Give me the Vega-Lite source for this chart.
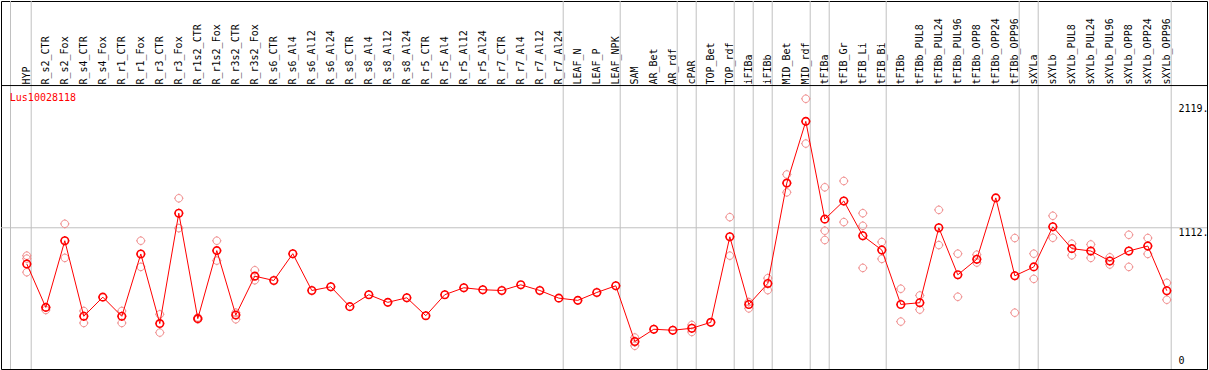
{
  "$schema": "https://vega.github.io/schema/vega-lite/v6.json",
  "width": 1209,
  "height": 370,
  "padding": 0,
  "autosize": {"type": "fit", "contains": "padding"},
  "background": "white",
  "config": {
    "view": {"stroke": "#000000", "strokeWidth": 1},
    "text": {"font": "DejaVu Sans Mono"}
  },
  "datasets": {
    "means": [
      {"sample": "HYP", "value": 819},
      {"sample": "R_s2_CTR", "value": 467},
      {"sample": "R_s2_Fox", "value": 1007},
      {"sample": "R_s4_CTR", "value": 395},
      {"sample": "R_s4_Fox", "value": 550},
      {"sample": "R_r1_CTR", "value": 395},
      {"sample": "R_r1_Fox", "value": 900},
      {"sample": "R_r3_CTR", "value": 336},
      {"sample": "R_r3_Fox", "value": 1230},
      {"sample": "R_r1s2_CTR", "value": 376},
      {"sample": "R_r1s2_Fox", "value": 927},
      {"sample": "R_r3s2_CTR", "value": 405},
      {"sample": "R_r3s2_Fox", "value": 720},
      {"sample": "R_s6_CTR", "value": 685},
      {"sample": "R_s6_Al4", "value": 902},
      {"sample": "R_s6_Al12", "value": 604},
      {"sample": "R_s6_Al24", "value": 634},
      {"sample": "R_s8_CTR", "value": 473},
      {"sample": "R_s8_Al4", "value": 570},
      {"sample": "R_s8_Al12", "value": 508},
      {"sample": "R_s8_Al24", "value": 545},
      {"sample": "R_r5_CTR", "value": 400},
      {"sample": "R_r5_Al4", "value": 570},
      {"sample": "R_r5_Al12", "value": 626},
      {"sample": "R_r5_Al24", "value": 610},
      {"sample": "R_r7_CTR", "value": 604},
      {"sample": "R_r7_Al4", "value": 650},
      {"sample": "R_r7_Al12", "value": 604},
      {"sample": "R_r7_Al24", "value": 542},
      {"sample": "LEAF_N", "value": 524},
      {"sample": "LEAF_P", "value": 588},
      {"sample": "LEAF_NPK", "value": 642},
      {"sample": "SAM", "value": 191},
      {"sample": "AR_Bet", "value": 290},
      {"sample": "AR_rdf", "value": 282},
      {"sample": "cPAR", "value": 298},
      {"sample": "TOP_Bet", "value": 346},
      {"sample": "TOP_rdf", "value": 1039},
      {"sample": "iFIBa", "value": 491},
      {"sample": "iFIBb", "value": 661},
      {"sample": "MID_Bet", "value": 1474},
      {"sample": "MID_rdf", "value": 1974},
      {"sample": "tFIBa", "value": 1182},
      {"sample": "tFIB_Gr", "value": 1329},
      {"sample": "tFIB_Li", "value": 1047},
      {"sample": "tFIB_Bi", "value": 932},
      {"sample": "tFIBb", "value": 491},
      {"sample": "tFIBb_PUL8", "value": 505},
      {"sample": "tFIBb_PUL24", "value": 1112},
      {"sample": "tFIBb_PUL96", "value": 731},
      {"sample": "tFIBb_OPP8", "value": 857},
      {"sample": "tFIBb_OPP24", "value": 1354},
      {"sample": "tFIBb_OPP96", "value": 723},
      {"sample": "sXYLa", "value": 795},
      {"sample": "sXYLb", "value": 1120},
      {"sample": "sXYLb_PUL8", "value": 943},
      {"sample": "sXYLb_PUL24", "value": 924},
      {"sample": "sXYLb_PUL96", "value": 843},
      {"sample": "sXYLb_OPP8", "value": 924},
      {"sample": "sXYLb_OPP24", "value": 964},
      {"sample": "sXYLb_OPP96", "value": 602}
    ],
    "reps": [
      {"sample": "HYP", "value": 886}, {"sample": "HYP", "value": 862}, {"sample": "HYP", "value": 752},
      {"sample": "R_s2_CTR", "value": 467}, {"sample": "R_s2_CTR", "value": 446},
      {"sample": "R_s2_Fox", "value": 1144}, {"sample": "R_s2_Fox", "value": 868},
      {"sample": "R_s4_CTR", "value": 438}, {"sample": "R_s4_CTR", "value": 341},
      {"sample": "R_r1_CTR", "value": 438}, {"sample": "R_r1_CTR", "value": 341},
      {"sample": "R_r1_Fox", "value": 1007}, {"sample": "R_r1_Fox", "value": 795},
      {"sample": "R_r3_CTR", "value": 411}, {"sample": "R_r3_CTR", "value": 263},
      {"sample": "R_r3_Fox", "value": 1351}, {"sample": "R_r3_Fox", "value": 1109},
      {"sample": "R_r1s2_CTR", "value": 385}, {"sample": "R_r1s2_CTR", "value": 370},
      {"sample": "R_r1s2_Fox", "value": 1007}, {"sample": "R_r1s2_Fox", "value": 846},
      {"sample": "R_r3s2_CTR", "value": 424}, {"sample": "R_r3s2_CTR", "value": 371},
      {"sample": "R_r3s2_Fox", "value": 768}, {"sample": "R_r3s2_Fox", "value": 687},
      {"sample": "SAM", "value": 223}, {"sample": "SAM", "value": 156}, {"sample": "SAM", "value": 185},
      {"sample": "cPAR", "value": 325}, {"sample": "cPAR", "value": 268},
      {"sample": "TOP_rdf", "value": 1198}, {"sample": "TOP_rdf", "value": 886},
      {"sample": "iFIBa", "value": 510}, {"sample": "iFIBa", "value": 459},
      {"sample": "iFIBb", "value": 704}, {"sample": "iFIBb", "value": 607},
      {"sample": "MID_Bet", "value": 1544}, {"sample": "MID_Bet", "value": 1399},
      {"sample": "MID_rdf", "value": 2157}, {"sample": "MID_rdf", "value": 1794},
      {"sample": "tFIBa", "value": 1440}, {"sample": "tFIBa", "value": 1088}, {"sample": "tFIBa", "value": 1013},
      {"sample": "tFIB_Gr", "value": 1491}, {"sample": "tFIB_Gr", "value": 1158},
      {"sample": "tFIB_Li", "value": 1230}, {"sample": "tFIB_Li", "value": 1128}, {"sample": "tFIB_Li", "value": 787},
      {"sample": "tFIB_Bi", "value": 997}, {"sample": "tFIB_Bi", "value": 860},
      {"sample": "tFIBb", "value": 618}, {"sample": "tFIBb", "value": 352},
      {"sample": "tFIBb_PUL8", "value": 564}, {"sample": "tFIBb_PUL8", "value": 449},
      {"sample": "tFIBb_PUL24", "value": 1257}, {"sample": "tFIBb_PUL24", "value": 972},
      {"sample": "tFIBb_PUL96", "value": 902}, {"sample": "tFIBb_PUL96", "value": 553},
      {"sample": "tFIBb_OPP8", "value": 894}, {"sample": "tFIBb_OPP8", "value": 830},
      {"sample": "tFIBb_OPP96", "value": 1029}, {"sample": "tFIBb_OPP96", "value": 424},
      {"sample": "sXYLa", "value": 902}, {"sample": "sXYLa", "value": 698},
      {"sample": "sXYLb", "value": 1209}, {"sample": "sXYLb", "value": 1031},
      {"sample": "sXYLb_PUL8", "value": 983}, {"sample": "sXYLb_PUL8", "value": 889},
      {"sample": "sXYLb_PUL24", "value": 977}, {"sample": "sXYLb_PUL24", "value": 868},
      {"sample": "sXYLb_PUL96", "value": 873}, {"sample": "sXYLb_PUL96", "value": 814},
      {"sample": "sXYLb_OPP8", "value": 1055}, {"sample": "sXYLb_OPP8", "value": 795},
      {"sample": "sXYLb_OPP24", "value": 1029}, {"sample": "sXYLb_OPP24", "value": 900},
      {"sample": "sXYLb_OPP96", "value": 666}, {"sample": "sXYLb_OPP96", "value": 529}
    ],
    "seps": [
      {"sample": "HYP"}, {"sample": "R_r7_Al24"}, {"sample": "LEAF_NPK"}, {"sample": "AR_rdf"},
      {"sample": "cPAR"}, {"sample": "TOP_rdf"}, {"sample": "iFIBa"}, {"sample": "iFIBb"},
      {"sample": "MID_rdf"}, {"sample": "tFIBa"}, {"sample": "tFIB_Bi"}, {"sample": "tFIBb_OPP96"},
      {"sample": "sXYLa"}, {"sample": "sXYLb_OPP96"}
    ],
    "gene": [{"name": "Lus10028118"}]
  },
  "layer": [
    {
      "data": {"name": "seps"},
      "mark": {"type": "rule", "color": "#c0c0c0", "strokeWidth": 1, "xOffset": 4.4},
      "encoding": {
        "x": {"field": "sample", "type": "nominal",
          "scale": {"type": "point", "padding": 0, "range": [25.8, 1165.8], "domain": ["HYP","R_s2_CTR","R_s2_Fox","R_s4_CTR","R_s4_Fox","R_r1_CTR","R_r1_Fox","R_r3_CTR","R_r3_Fox","R_r1s2_CTR","R_r1s2_Fox","R_r3s2_CTR","R_r3s2_Fox","R_s6_CTR","R_s6_Al4","R_s6_Al12","R_s6_Al24","R_s8_CTR","R_s8_Al4","R_s8_Al12","R_s8_Al24","R_r5_CTR","R_r5_Al4","R_r5_Al12","R_r5_Al24","R_r7_CTR","R_r7_Al4","R_r7_Al12","R_r7_Al24","LEAF_N","LEAF_P","LEAF_NPK","SAM","AR_Bet","AR_rdf","cPAR","TOP_Bet","TOP_rdf","iFIBa","iFIBb","MID_Bet","MID_rdf","tFIBa","tFIB_Gr","tFIB_Li","tFIB_Bi","tFIBb","tFIBb_PUL8","tFIBb_PUL24","tFIBb_PUL96","tFIBb_OPP8","tFIBb_OPP24","tFIBb_OPP96","sXYLa","sXYLb","sXYLb_PUL8","sXYLb_PUL24","sXYLb_PUL96","sXYLb_OPP8","sXYLb_OPP24","sXYLb_OPP96"]},
          "axis": {"orient": "top", "offset": -85, "title": null, "labelAngle": -90, "labelAlign": "left", "labelBaseline": "middle",
            "labelPadding": 2, "labelFont": "DejaVu Sans Mono", "labelFontSize": 10, "labelColor": "#000000",
            "labelOverlap": false, "labelLimit": 300, "labelBound": false, "labelFlush": false,
            "ticks": false, "grid": false, "domain": false}
        }
      }
    },
    {
      "data": {"name": "gene"},
      "mark": {"type": "rule", "color": "#c0c0c0", "strokeWidth": 1, "xOffset": -16.3},
      "encoding": {
        "x": {"datum": "HYP", "type": "nominal",
          "scale": {"type": "point", "padding": 0, "range": [25.8, 1165.8], "domain": ["HYP","R_s2_CTR","R_s2_Fox","R_s4_CTR","R_s4_Fox","R_r1_CTR","R_r1_Fox","R_r3_CTR","R_r3_Fox","R_r1s2_CTR","R_r1s2_Fox","R_r3s2_CTR","R_r3s2_Fox","R_s6_CTR","R_s6_Al4","R_s6_Al12","R_s6_Al24","R_s8_CTR","R_s8_Al4","R_s8_Al12","R_s8_Al24","R_r5_CTR","R_r5_Al4","R_r5_Al12","R_r5_Al24","R_r7_CTR","R_r7_Al4","R_r7_Al12","R_r7_Al24","LEAF_N","LEAF_P","LEAF_NPK","SAM","AR_Bet","AR_rdf","cPAR","TOP_Bet","TOP_rdf","iFIBa","iFIBb","MID_Bet","MID_rdf","tFIBa","tFIB_Gr","tFIB_Li","tFIB_Bi","tFIBb","tFIBb_PUL8","tFIBb_PUL24","tFIBb_PUL96","tFIBb_OPP8","tFIBb_OPP24","tFIBb_OPP96","sXYLa","sXYLb","sXYLb_PUL8","sXYLb_PUL24","sXYLb_PUL96","sXYLb_OPP8","sXYLb_OPP24","sXYLb_OPP96"]}}
      }
    },
    {
      "data": {"name": "gene"},
      "mark": {"type": "rule", "color": "#c0c0c0", "strokeWidth": 1},
      "encoding": {
        "y": {"datum": 1112, "type": "quantitative",
          "scale": {"domain": [-32, 2949], "nice": false, "zero": false},
          "axis": {"orient": "right", "offset": -30, "title": null, "values": [0, 1112, 2119],
            "labelExpr": "datum.value == 0 ? '0' : datum.value + '.'",
            "labelAlign": "left", "labelPadding": 1,
            "labelBaseline": {"condition": {"test": "datum.value == 0", "value": "bottom"}, "value": "top"},
            "labelFont": "DejaVu Sans Mono", "labelFontSize": 10, "labelColor": "#000000",
            "labelBound": false, "labelFlush": false, "labelOverlap": false,
            "ticks": false, "grid": false, "domain": false}
        }
      }
    },
    {
      "data": {"name": "gene"},
      "mark": {"type": "rule", "color": "#000000", "strokeWidth": 1},
      "encoding": {
        "y": {"datum": 2264, "type": "quantitative", "scale": {"domain": [-32, 2949], "nice": false, "zero": false}}
      }
    },
    {
      "data": {"name": "reps"},
      "mark": {"type": "point", "shape": "M-1,0C-1,-0.5523,-0.5523,-1,0,-1C0.5523,-1,1,-0.5523,1,0C1,0.5523,0.5523,1,0,1C-0.5523,1,-1,0.5523,-1,0ZM0,-1L0,-1.25M0,1L0,1.25M-1,0L-1.25,0M1,0L1.25,0",
        "filled": false, "stroke": "#f08c8c", "strokeWidth": 1, "size": 56, "opacity": 1},
      "encoding": {
        "x": {"field": "sample", "type": "nominal",
          "scale": {"type": "point", "padding": 0, "range": [25.8, 1165.8], "domain": ["HYP","R_s2_CTR","R_s2_Fox","R_s4_CTR","R_s4_Fox","R_r1_CTR","R_r1_Fox","R_r3_CTR","R_r3_Fox","R_r1s2_CTR","R_r1s2_Fox","R_r3s2_CTR","R_r3s2_Fox","R_s6_CTR","R_s6_Al4","R_s6_Al12","R_s6_Al24","R_s8_CTR","R_s8_Al4","R_s8_Al12","R_s8_Al24","R_r5_CTR","R_r5_Al4","R_r5_Al12","R_r5_Al24","R_r7_CTR","R_r7_Al4","R_r7_Al12","R_r7_Al24","LEAF_N","LEAF_P","LEAF_NPK","SAM","AR_Bet","AR_rdf","cPAR","TOP_Bet","TOP_rdf","iFIBa","iFIBb","MID_Bet","MID_rdf","tFIBa","tFIB_Gr","tFIB_Li","tFIB_Bi","tFIBb","tFIBb_PUL8","tFIBb_PUL24","tFIBb_PUL96","tFIBb_OPP8","tFIBb_OPP24","tFIBb_OPP96","sXYLa","sXYLb","sXYLb_PUL8","sXYLb_PUL24","sXYLb_PUL96","sXYLb_OPP8","sXYLb_OPP24","sXYLb_OPP96"]}},
        "y": {"field": "value", "type": "quantitative", "scale": {"domain": [-32, 2949], "nice": false, "zero": false}}
      }
    },
    {
      "data": {"name": "means"},
      "mark": {"type": "line", "color": "#ff0000", "strokeWidth": 1},
      "encoding": {
        "x": {"field": "sample", "type": "nominal",
          "scale": {"type": "point", "padding": 0, "range": [25.8, 1165.8], "domain": ["HYP","R_s2_CTR","R_s2_Fox","R_s4_CTR","R_s4_Fox","R_r1_CTR","R_r1_Fox","R_r3_CTR","R_r3_Fox","R_r1s2_CTR","R_r1s2_Fox","R_r3s2_CTR","R_r3s2_Fox","R_s6_CTR","R_s6_Al4","R_s6_Al12","R_s6_Al24","R_s8_CTR","R_s8_Al4","R_s8_Al12","R_s8_Al24","R_r5_CTR","R_r5_Al4","R_r5_Al12","R_r5_Al24","R_r7_CTR","R_r7_Al4","R_r7_Al12","R_r7_Al24","LEAF_N","LEAF_P","LEAF_NPK","SAM","AR_Bet","AR_rdf","cPAR","TOP_Bet","TOP_rdf","iFIBa","iFIBb","MID_Bet","MID_rdf","tFIBa","tFIB_Gr","tFIB_Li","tFIB_Bi","tFIBb","tFIBb_PUL8","tFIBb_PUL24","tFIBb_PUL96","tFIBb_OPP8","tFIBb_OPP24","tFIBb_OPP96","sXYLa","sXYLb","sXYLb_PUL8","sXYLb_PUL24","sXYLb_PUL96","sXYLb_OPP8","sXYLb_OPP24","sXYLb_OPP96"]}},
        "y": {"field": "value", "type": "quantitative", "scale": {"domain": [-32, 2949], "nice": false, "zero": false}}
      }
    },
    {
      "data": {"name": "means"},
      "mark": {"type": "point", "shape": "M-1,0C-1,-0.5523,-0.5523,-1,0,-1C0.5523,-1,1,-0.5523,1,0C1,0.5523,0.5523,1,0,1C-0.5523,1,-1,0.5523,-1,0ZM0,-1L0,-1.25M0,1L0,1.25M-1,0L-1.25,0M1,0L1.25,0",
        "filled": false, "stroke": "#ff0000", "strokeWidth": 1.6, "size": 56, "opacity": 1},
      "encoding": {
        "x": {"field": "sample", "type": "nominal",
          "scale": {"type": "point", "padding": 0, "range": [25.8, 1165.8], "domain": ["HYP","R_s2_CTR","R_s2_Fox","R_s4_CTR","R_s4_Fox","R_r1_CTR","R_r1_Fox","R_r3_CTR","R_r3_Fox","R_r1s2_CTR","R_r1s2_Fox","R_r3s2_CTR","R_r3s2_Fox","R_s6_CTR","R_s6_Al4","R_s6_Al12","R_s6_Al24","R_s8_CTR","R_s8_Al4","R_s8_Al12","R_s8_Al24","R_r5_CTR","R_r5_Al4","R_r5_Al12","R_r5_Al24","R_r7_CTR","R_r7_Al4","R_r7_Al12","R_r7_Al24","LEAF_N","LEAF_P","LEAF_NPK","SAM","AR_Bet","AR_rdf","cPAR","TOP_Bet","TOP_rdf","iFIBa","iFIBb","MID_Bet","MID_rdf","tFIBa","tFIB_Gr","tFIB_Li","tFIB_Bi","tFIBb","tFIBb_PUL8","tFIBb_PUL24","tFIBb_PUL96","tFIBb_OPP8","tFIBb_OPP24","tFIBb_OPP96","sXYLa","sXYLb","sXYLb_PUL8","sXYLb_PUL24","sXYLb_PUL96","sXYLb_OPP8","sXYLb_OPP24","sXYLb_OPP96"]}},
        "y": {"field": "value", "type": "quantitative", "scale": {"domain": [-32, 2949], "nice": false, "zero": false}}
      }
    },
    {
      "data": {"name": "gene"},
      "mark": {"type": "text", "color": "#ff0000", "font": "DejaVu Sans Mono", "fontSize": 10, "align": "left", "baseline": "middle", "dx": -17},
      "encoding": {
        "x": {"datum": "HYP", "type": "nominal",
          "scale": {"type": "point", "padding": 0, "range": [25.8, 1165.8], "domain": ["HYP","R_s2_CTR","R_s2_Fox","R_s4_CTR","R_s4_Fox","R_r1_CTR","R_r1_Fox","R_r3_CTR","R_r3_Fox","R_r1s2_CTR","R_r1s2_Fox","R_r3s2_CTR","R_r3s2_Fox","R_s6_CTR","R_s6_Al4","R_s6_Al12","R_s6_Al24","R_s8_CTR","R_s8_Al4","R_s8_Al12","R_s8_Al24","R_r5_CTR","R_r5_Al4","R_r5_Al12","R_r5_Al24","R_r7_CTR","R_r7_Al4","R_r7_Al12","R_r7_Al24","LEAF_N","LEAF_P","LEAF_NPK","SAM","AR_Bet","AR_rdf","cPAR","TOP_Bet","TOP_rdf","iFIBa","iFIBb","MID_Bet","MID_rdf","tFIBa","tFIB_Gr","tFIB_Li","tFIB_Bi","tFIBb","tFIBb_PUL8","tFIBb_PUL24","tFIBb_PUL96","tFIBb_OPP8","tFIBb_OPP24","tFIBb_OPP96","sXYLa","sXYLb","sXYLb_PUL8","sXYLb_PUL24","sXYLb_PUL96","sXYLb_OPP8","sXYLb_OPP24","sXYLb_OPP96"]}},
        "y": {"datum": 2167, "type": "quantitative", "scale": {"domain": [-32, 2949], "nice": false, "zero": false}},
        "text": {"field": "name", "type": "nominal"}
      }
    }
  ]
}
